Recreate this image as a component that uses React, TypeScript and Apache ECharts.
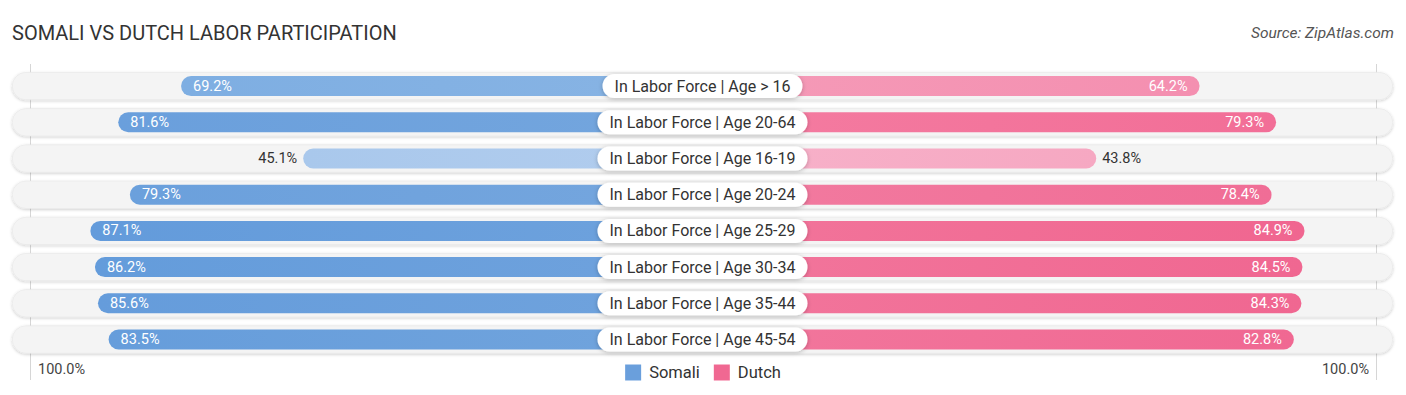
import React, { useEffect, useRef } from "react";
import * as echarts from "echarts";

const categories = [
  "In Labor Force | Age > 16",
  "In Labor Force | Age 20-64",
  "In Labor Force | Age 16-19",
  "In Labor Force | Age 20-24",
  "In Labor Force | Age 25-29",
  "In Labor Force | Age 30-34",
  "In Labor Force | Age 35-44",
  "In Labor Force | Age 45-54",
];
const somali = [69.2, 81.6, 45.1, 79.3, 87.1, 86.2, 85.6, 83.5];
const dutch = [64.2, 79.3, 43.8, 78.4, 84.9, 84.5, 84.3, 82.8];
const somaliColors = ["#7eaee2", "#6a9fdc", "#a9c8ec", "#6ba0dc", "#639bdb", "#649cdb", "#659cdb", "#669ddb"];
const somaliLight = ["#88b4e4", "#74a6de", "#b2cdee", "#75a6de", "#6ea2dd", "#6fa2dd", "#70a3dd", "#71a4dd"];
const dutchColors = ["#f48fb0", "#f26e97", "#f6a8c2", "#f06d96", "#f06690", "#f06791", "#f06791", "#f06892"];
const dutchLight = ["#f59bb8", "#f47ca1", "#f7b2ca", "#f27ba0", "#f2759b", "#f2769c", "#f2769c", "#f2779d"];
const legendNames = ["Somali", "Dutch"];
const endLabels = ["100.0%", "100.0%"];

const OFFSET = 33.8; // width of the central label zone, in percent units
const AXIS_MAX = 100 + OFFSET;
const INSIDE_MIN = 60;

export default function App() {
  const ref = useRef<HTMLDivElement>(null);
  useEffect(() => {
    if (!ref.current) return;
    const chart = echarts.init(ref.current, undefined, { renderer: "svg" });
    const top = 68;
    const height = 289.6;
    const font = "Roboto, 'Noto Sans', sans-serif";

    const leftData = somali.map((v, i) => ({
      value: v + OFFSET,
      itemStyle: {
        color: new echarts.graphic.LinearGradient(0, 0, 1, 0, [
          { offset: 0, color: somaliColors[i] },
          { offset: 1, color: somaliLight[i] },
        ]),
      },
      label: v >= INSIDE_MIN
        ? { position: "insideLeft", color: "#fff", distance: 12 }
        : { position: "left", color: "#333", distance: 6 },
    }));
    const rightData = dutch.map((v, i) => ({
      value: v + OFFSET,
      itemStyle: {
        color: new echarts.graphic.LinearGradient(0, 0, 1, 0, [
          { offset: 0, color: dutchLight[i] },
          { offset: 1, color: dutchColors[i] },
        ]),
      },
      label: v >= INSIDE_MIN
        ? { position: "insideRight", color: "#fff", distance: 12 }
        : { position: "right", color: "#333", distance: 6 },
    }));

    const yAxisBase = {
      type: "category" as const,
      data: categories,
      inverse: true,
      show: false,
    };

    chart.setOption({
      animation: false,
      textStyle: { fontFamily: font },
      title: [
        {
          text: "SOMALI VS DUTCH LABOR PARTICIPATION",
          left: 7,
          top: 18,
          textStyle: { fontSize: 20, fontWeight: "normal", color: "#333", fontFamily: font },
        },
        {
          text: "Source: ZipAtlas.com",
          right: 7,
          top: 20,
          textStyle: { fontSize: 15.5, fontWeight: "normal", fontStyle: "italic", color: "#555", fontFamily: font },
        },
      ],
      legend: {
        data: legendNames,
        top: 359,
        left: "center",
        icon: "rect",
        itemWidth: 16,
        itemHeight: 16,
        itemGap: 14,
        textStyle: { fontSize: 16.5, color: "#333", fontFamily: font, padding: [0, 0, 0, 3] },
      },
      grid: [
        { left: 12, width: 1381, top, height },
        { left: 25, width: 678, top, height },
        { left: 703, width: 678, top, height },
      ],
      xAxis: [
        { type: "value", gridIndex: 0, min: 0, max: 1, show: false },
        { type: "value", gridIndex: 1, min: 0, max: AXIS_MAX, inverse: true, show: false },
        { type: "value", gridIndex: 2, min: 0, max: AXIS_MAX, show: false },
      ],
      yAxis: [
        { ...yAxisBase, gridIndex: 0 },
        { ...yAxisBase, gridIndex: 1 },
        { ...yAxisBase, gridIndex: 2 },
      ],
      graphic: [
        { type: "line", shape: { x1: 30.5, y1: 64, x2: 30.5, y2: 380 }, style: { stroke: "#d6d6d6", lineWidth: 1 }, z: 0 },
        { type: "line", shape: { x1: 1376.5, y1: 64, x2: 1376.5, y2: 380 }, style: { stroke: "#d6d6d6", lineWidth: 1 }, z: 0 },
        { type: "text", left: 38, top: 362, style: { text: endLabels[0], fontSize: 14.5, fill: "#444", fontFamily: font } },
        { type: "text", right: 37, top: 362, style: { text: endLabels[1], fontSize: 14.5, fill: "#444", fontFamily: font, align: "right" } },
      ],
      series: [
        {
          type: "bar",
          xAxisIndex: 0,
          yAxisIndex: 0,
          data: categories.map(() => 1),
          barWidth: 28,
          silent: true,
          z: 1,
          itemStyle: {
            color: "#f4f4f4",
            borderColor: "#e4e4e4",
            borderWidth: 0.5,
            borderRadius: 14,
            shadowBlur: 3,
            shadowColor: "rgba(0,0,0,0.2)",
            shadowOffsetY: 1,
          },
        },
        {
          name: "Somali",
          type: "bar",
          xAxisIndex: 1,
          yAxisIndex: 1,
          data: leftData,
          barWidth: 20,
          z: 2,
          itemStyle: { color: "#6a9fdc", borderRadius: 10 },
          label: {
            show: true,
            fontSize: 14.5,
            fontFamily: font,
            formatter: (p: any) => somali[p.dataIndex].toFixed(1) + "%",
          },
        },
        {
          name: "Dutch",
          type: "bar",
          xAxisIndex: 2,
          yAxisIndex: 2,
          data: rightData,
          barWidth: 20,
          z: 2,
          itemStyle: { color: "#f06892", borderRadius: 10 },
          label: {
            show: true,
            fontSize: 14.5,
            fontFamily: font,
            formatter: (p: any) => dutch[p.dataIndex].toFixed(1) + "%",
          },
        },
        {
          type: "scatter",
          xAxisIndex: 0,
          yAxisIndex: 0,
          z: 5,
          symbolSize: 0,
          silent: true,
          itemStyle: { opacity: 1 },
          data: categories.map((c, i) => [0.5, i]),
          label: {
            show: true,
            position: "inside",
            opacity: 1,
            formatter: (p: any) => categories[p.dataIndex],
            fontSize: 16,
            color: "#333",
            fontFamily: font,
            backgroundColor: "#ffffff",
            borderRadius: 12,
            padding: [4, 12, 4, 12],
            shadowBlur: 4,
            shadowColor: "rgba(0,0,0,0.25)",
            shadowOffsetY: 1,
          },
        },
      ],
    });
    return () => chart.dispose();
  }, []);
  return (
    <div
      ref={ref}
      style={{ position: "absolute", left: 0, top: 0, width: 1406, height: 395, background: "#fff" }}
    />
  );
}
